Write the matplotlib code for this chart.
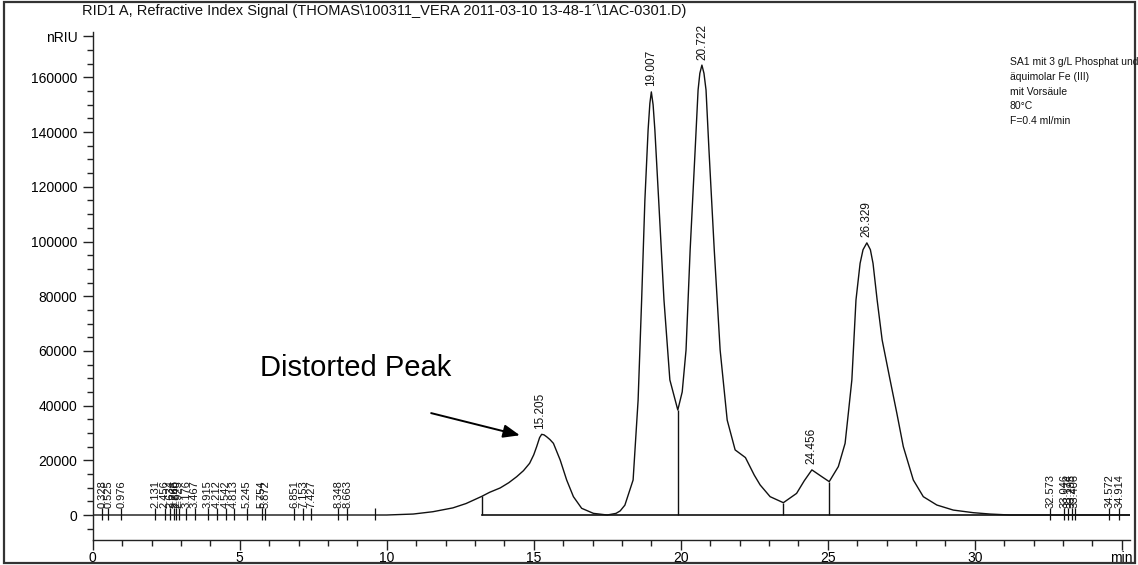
import matplotlib

matplotlib.use("Agg")
import matplotlib.pyplot as plt
import numpy as np
from matplotlib.patches import Rectangle
from matplotlib.ticker import MultipleLocator, FixedLocator, FixedFormatter

plt.rcParams["font.family"] = ["Liberation Sans", "DejaVu Sans"]

# RID signal, time (min) vs. nRIU
time_min = [0.0, 10.0, 10.9, 11.57, 12.25, 12.7, 13.23, 13.5, 13.86, 14.15,
            14.42, 14.65, 14.86, 15.0, 15.1, 15.2, 15.27, 15.35, 15.44, 15.55,
            15.67, 15.9, 16.12, 16.35, 16.63, 17.03, 17.5,
            17.8, 17.94, 18.1, 18.38, 18.55, 18.67, 18.78, 18.89, 18.95, 19.0, 19.06,
            19.12, 19.25, 19.43, 19.63, 19.9, 20.05, 20.18, 20.32, 20.49, 20.59,
            20.65, 20.72, 20.79, 20.86, 20.96, 21.14, 21.34, 21.58, 21.85, 22.2,
            22.5, 22.7, 23.04, 23.49, 23.94, 24.2, 24.46, 24.8, 25.05, 25.36,
            25.59, 25.7, 25.82, 25.96, 26.1, 26.2, 26.33, 26.45, 26.54, 26.68,
            26.85, 27.12, 27.35, 27.57, 27.91, 28.25, 28.71, 29.27, 29.95, 30.52,
            31.2, 35.3]
signal = [0, 0, 350, 1200, 2600, 4200, 6800, 8300, 9900, 11800,
          14000, 16200, 18900, 22000, 25000, 28300, 29500, 29300, 28600, 27600,
          26200, 20100, 12800, 6700, 2450, 600, 0,
          600, 1500, 3600, 12800, 42000, 78600, 115000, 140800, 150500, 154700, 150000,
          140800, 115000, 78600, 49400, 38400, 45000, 60300, 96900, 133500, 155400,
          161500, 164500, 161500, 155400, 133500, 96900, 60300, 34700, 23800, 21000,
          14600, 11000, 6700, 4500, 7900, 12500, 16500, 14000, 12200, 17700,
          26200, 37200, 49400, 78600, 92000, 97000, 99500, 97000, 92000, 78600,
          64000, 49400, 37200, 25000, 12800, 6700, 3650, 1800, 850, 350,
          0, 0]

# labelled main peaks
peak_rt = [15.205, 19.007, 20.722, 24.456, 26.329]
peak_height = [29500, 154700, 164500, 16500, 99500]

# small integrator events near the baseline
small_rt = [0.328, 0.525, 0.976, 2.131, 2.456, 2.634, 2.766, 2.840, 2.925,
            3.176, 3.467, 3.915, 4.212, 4.542, 4.813, 5.245, 5.754, 5.872,
            6.851, 7.153, 7.427, 8.348, 8.663,
            32.573, 33.046, 33.174, 33.295, 33.406, 34.572, 34.914]
unlabelled_rt = [9.6]

# integration drop lines
drop_rt = [13.23, 19.9, 23.49, 25.05]

info_lines = ["SA1 mit 3 g/L Phosphat und", "äquimolar Fe (III)",
              "mit Vorsäule", "80°C", "F=0.4 ml/min"]

W, H = 1138, 565
fig = plt.figure(figsize=(W / 100, H / 100), dpi=100)
ax = fig.add_axes([92.7 / W, 1 - 540 / H, (1130 - 92.7) / W, (540 - 32) / H])

ax.plot(time_min, signal, color="#111111", lw=1.0)
ax.plot([drop_rt[0], time_min[-1]], [0, 0], color="#111111", lw=1.2)
drop_top = np.interp(drop_rt, time_min, signal)
ax.vlines(drop_rt, 0, drop_top, color="#111111", lw=1.0)

# baseline event markers
ax.vlines(small_rt + unlabelled_rt, -2000, 2500, color="#111111", lw=0.9)
for rt in small_rt:
    ax.text(rt, 2700, f"{rt:.3f}", rotation=90, ha="center", va="bottom",
            fontsize=8, color="#111111")

for rt, h in zip(peak_rt, peak_height):
    ax.text(rt, h + 2000, f"{rt:.3f}", rotation=90, ha="center", va="bottom",
            fontsize=8.5, color="#111111", clip_on=False)

ax.annotate("", xy=(14.62, 28900), xytext=(11.42, 37500),
            arrowprops=dict(arrowstyle="-|>,head_length=1.0,head_width=0.4",
                            color="black", lw=1.4))
ax.text(5.69, 53700, "Distorted Peak", fontsize=21, ha="left", va="center")

ax.set_xlim(0, 35.28)
ax.set_ylim(-9140, 176600)

ax.xaxis.set_major_locator(FixedLocator([0, 5, 10, 15, 20, 25, 30, 35]))
ax.xaxis.set_major_formatter(FixedFormatter(["0", "5", "10", "15", "20", "25", "30", "min"]))
ax.xaxis.set_minor_locator(MultipleLocator(1))
yticks = list(range(0, 160001, 20000)) + [175000]
ax.yaxis.set_major_locator(FixedLocator(yticks))
ax.yaxis.set_major_formatter(FixedFormatter([str(v) for v in yticks[:-1]] + ["nRIU"]))
ax.yaxis.set_minor_locator(MultipleLocator(5000))

for side in ["top", "right"]:
    ax.spines[side].set_visible(False)
for side in ["left", "bottom"]:
    ax.spines[side].set_color("#222222")
    ax.spines[side].set_linewidth(1.0)
ax.tick_params(which="major", length=7, width=1, color="#222222",
               labelsize=10, pad=1)
ax.tick_params(which="minor", length=4, width=1, color="#222222")
ax.tick_params(axis="y", pad=4)

fig.text(82 / W, 1 - 11 / H, "RID1 A, Refractive Index Signal "
         "(THOMAS\\100311_VERA 2011-03-10 13-48-1´\\1AC-0301.D)",
         fontsize=10.5, ha="left", va="center", color="#111111")
for i, line in enumerate(info_lines):
    fig.text(1010 / W, 1 - (62 + 14.8 * i) / H, line, fontsize=7.5,
             ha="left", va="center", color="#111111")

fig.add_artist(Rectangle((4 / W, 2 / H), 1131 / W, 561 / H, transform=fig.transFigure,
                         fill=False, lw=1.6, ec="#333333"))

fig.savefig("out.png", dpi=100)
